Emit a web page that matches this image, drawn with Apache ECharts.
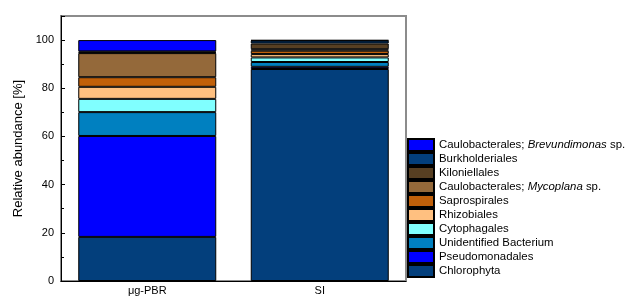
<!DOCTYPE html>
<html>
<head>
<meta charset="utf-8">
<script src="https://cdn.jsdelivr.net/npm/echarts@6/dist/echarts.min.js"></script>
<style>
  html, body { margin: 0; padding: 0; background: #fff; }
  #chart { width: 628px; height: 296px; }
</style>
</head>
<body>
<div id="chart"></div>
<script>
var categories = ['μg-PBR', 'SI'];
var yTicks = [0, 20, 40, 60, 80, 100];

// bottom to top in the stack
var seriesNames = ['Chlorophyta', 'Pseudomonadales', 'Unidentified Bacterium', 'Cytophagales',
    'Rhizobiales', 'Saprospirales', 'Caulobacterales; Mycoplana sp.', 'Kiloniellales',
    'Burkholderiales', 'Caulobacterales; Brevundimonas sp.'];
var chlorophyta     = [18.3, 88.0];
var pseudomonadales = [41.9, 0.9];
var unidentified    = [9.9, 2.0];
var cytophagales    = [5.5, 1.9];
var rhizobiales     = [5.0, 1.4];
var saprospirales   = [4.0, 1.4];
var mycoplana       = [10.0, 0.6];
var kiloniellales   = [0.3, 2.4];
var burkholderiales = [0.4, 1.2];
var brevundimonas   = [4.7, 0.2];
var seriesValues = [chlorophyta, pseudomonadales, unidentified, cytophagales, rhizobiales,
    saprospirales, mycoplana, kiloniellales, burkholderiales, brevundimonas];
var colors = ['#033f7c', '#0000ff', '#0080c0', '#80ffff', '#ffc080',
    '#c0600a', '#94693a', '#573f22', '#033f7c', '#0000ff'];

var font = 'Liberation Sans, Arial, sans-serif';
var chart = echarts.init(document.getElementById('chart'), null, {renderer: 'canvas'});

var series = seriesNames.map(function (name, i) {
    return {
        name: name,
        type: 'bar',
        stack: 'total',
        barCategoryGap: '20%',
        data: seriesValues[i],
        itemStyle: {color: colors[i], borderColor: '#000', borderWidth: 1},
        animation: false
    };
});

function legendLabel(name) {
    var m = name.match(/^(Caulobacterales; )(\w+)( sp\.)$/);
    if (m) return '{n|' + m[1] + '}{i|' + m[2] + '}{n|' + m[3] + '}';
    return '{n|' + name + '}';
}

var option = {
    backgroundColor: '#fff',
    animation: false,
    grid: {
        left: 61, right: 222, top: 16, bottom: 13.5,
        show: true, borderColor: '#8c8c8c', borderWidth: 2
    },
    legend: {
        orient: 'vertical',
        left: 407, top: 138, height: 158,
        padding: 0,
        itemWidth: 26, itemHeight: 12, itemGap: 0,
        icon: 'rect',
        data: seriesNames.slice().reverse(),
        formatter: legendLabel,
        textStyle: {
            fontFamily: font, fontSize: 11.4, color: '#000', lineHeight: 12,
            rich: {
                n: {fontFamily: font, fontSize: 11.4, color: '#000', lineHeight: 12},
                i: {fontFamily: font, fontSize: 11.4, color: '#000', fontStyle: 'italic', lineHeight: 12}
            }
        }
    },
    xAxis: {
        type: 'category',
        data: categories,
        axisLine: {lineStyle: {color: '#000', width: 1}},
        axisTick: {show: false},
        axisLabel: {fontFamily: font, fontSize: 11, color: '#000', margin: 4}
    },
    yAxis: {
        type: 'value',
        min: 0, max: 110, interval: 20,
        name: 'Relative abundance [%]',
        nameLocation: 'middle',
        nameGap: 26,
        nameTextStyle: {fontFamily: font, fontSize: 13, color: '#000'},
        axisLine: {show: true, lineStyle: {color: '#000', width: 1}},
        axisTick: {show: true, inside: true, length: 4, lineStyle: {color: '#000'}},
        minorTick: {show: true, splitNumber: 2, length: 3, lineStyle: {color: '#000'}},
        splitLine: {show: false},
        axisLabel: {
            fontFamily: font, fontSize: 11, color: '#000', margin: 7,
            formatter: function (v) { return yTicks.indexOf(v) >= 0 ? String(v) : ''; }
        }
    },
    series: series
};
chart.setOption(option);
</script>
</body>
</html>
